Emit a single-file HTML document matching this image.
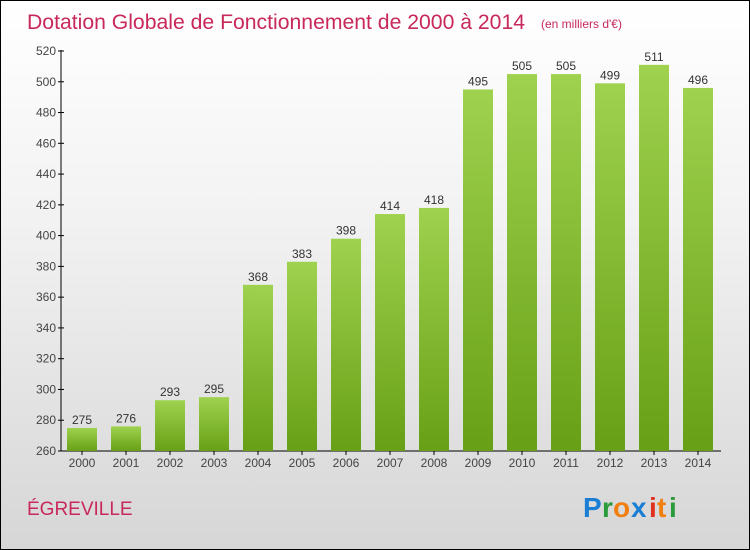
<!DOCTYPE html>
<html><head><meta charset="utf-8"><style>
body{margin:0}
#c{width:748px;height:548px;border:1px solid #000;background:linear-gradient(#ffffff,#f2f2f2 40%,#d6d6d6);position:relative;font-family:"Liberation Sans",sans-serif;overflow:hidden}
</style></head><body>
<div id="c">
<svg width="748" height="548" style="position:absolute;left:0;top:0" id="svg">
<defs><linearGradient id="g" x1="0" y1="0" x2="0" y2="1"><stop offset="0" stop-color="#9fd24f"/><stop offset="1" stop-color="#67a016"/></linearGradient></defs>
<text x="26" y="28" font-size="21" textLength="498" lengthAdjust="spacingAndGlyphs" fill="#c8285a">Dotation Globale de Fonctionnement de 2000 à 2014</text>
<text x="540" y="27" font-size="12" fill="#c8285a">(en milliers d'€)</text>
<text x="26" y="514" font-size="19" fill="#c8285a">ÉGREVILLE</text>
<g font-size="28" font-weight="bold">
<text x="582" y="516" fill="#1a7fd4">P</text><text x="601" y="516" fill="#2a9a3a">r</text><text x="612" y="516" fill="#f07f10">o</text><text x="630" y="516" fill="#1a7fd4">x</text><text x="648" y="516" fill="#e03020">i</text><text x="656" y="516" fill="#f07f10">t</text><text x="668" y="516" fill="#2a9a3a">i</text>
</g>
<g id="plot"></g>
</svg>
</div>
<script>
const categories=["2000","2001","2002","2003","2004","2005","2006","2007","2008","2009","2010","2011","2012","2013","2014"];
const values=[275,276,293,295,368,383,398,414,418,495,505,505,499,511,496];
const yTicks=[260,280,300,320,340,360,380,400,420,440,460,480,500,520];
const NS="http://www.w3.org/2000/svg";
const g=document.getElementById('plot');
const y=v=>450-(v-260)*400/260;
const x=i=>81+i*44;
function mk(t,a,txt){const e=document.createElementNS(NS,t);for(const k in a)e.setAttribute(k,a[k]);if(txt!=null)e.textContent=txt;g.appendChild(e);return e;}
let e=mk('line',{x1:60,y1:49,x2:60,y2:450,stroke:'#000'});


e=mk('line',{x1:60,y1:450,x2:720,y2:450,stroke:'#000'});


yTicks.forEach(t=>{
 let l=mk('line',{x1:57,x2:63,y1:y(t),y2:y(t),stroke:'#000'});
 
 
 let s=mk('text',{x:55,y:y(t)+4,'font-size':12,fill:'#444','text-anchor':'end'},t);
 
 
});
categories.forEach((c,i)=>{
 const v=values[i];
 let r=mk('rect',{x:x(i)-15,y:y(v),width:30,height:450-y(v),fill:'url(#g)'});
 
 
 let t=mk('text',{x:x(i),y:y(v)-4,'font-size':12,fill:'#333','text-anchor':'middle'},v);
 
 
 let l=mk('line',{x1:x(i),x2:x(i),y1:450,y2:454,stroke:'#000'});
 
 
 let xl=mk('text',{x:x(i),y:466,'font-size':12,fill:'#444','text-anchor':'middle'},c);
 
 
});
</script>
</body></html>
